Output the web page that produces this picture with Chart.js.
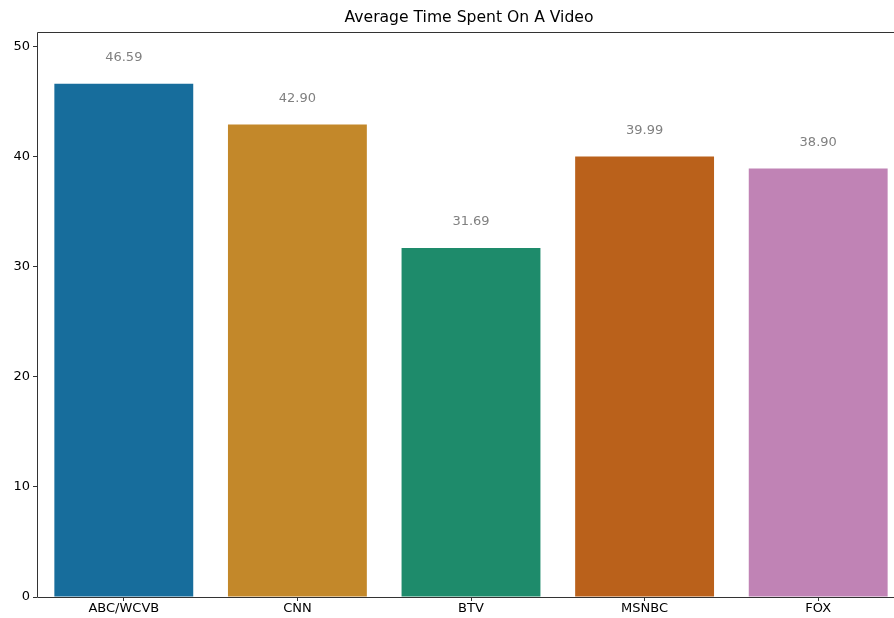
<!DOCTYPE html>
<html>
<head>
<meta charset="utf-8">
<script src="https://cdn.jsdelivr.net/npm/chart.js@4/dist/chart.umd.min.js"></script>
<style>
  html, body { margin: 0; padding: 0; background: #fff; overflow: hidden; }
  #wrap { width: 894px; height: 618px; overflow: hidden; position: relative; }
  #c { position: absolute; left: 0; top: 0; }
</style>
</head>
<body>
<div id="wrap"><canvas id="c" width="905" height="618"></canvas></div>
<script>
const channels = ['ABC/WCVB', 'CNN', 'BTV', 'MSNBC', 'FOX'];
const avgTime = [46.59, 42.90, 31.69, 39.99, 38.90];
const barColors = ['#176d9c', '#c3882a', '#1e8b6b', '#ba611b', '#c083b5'];
const yTicks = [0, 10, 20, 30, 40, 50];
const chartTitle = 'Average Time Spent On A Video';

const FONT = "'DejaVu Sans', sans-serif";

// spines around the plotting area plus the title centred over it
const frame = {
  id: 'frame',
  afterDatasetsDraw(chart) {
    const { ctx, chartArea: a } = chart;
    const l = Math.round(a.left) + 0.5, t = Math.round(a.top) + 0.5, b = Math.round(a.bottom) + 0.5;
    const r = Math.round(a.right) - 0.5;
    ctx.save();
    ctx.strokeStyle = '#333';
    ctx.lineWidth = 1;
    ctx.beginPath();
    ctx.moveTo(r, t); ctx.lineTo(l, t); ctx.lineTo(l, b); ctx.lineTo(r, b); ctx.lineTo(r, t);
    ctx.stroke();
    ctx.fillStyle = '#000';
    ctx.font = '15.6px ' + FONT;
    ctx.textAlign = 'center';
    ctx.textBaseline = 'middle';
    ctx.fillText(chartTitle, (a.left + a.right) / 2 - 2, 18);
    ctx.restore();
  }
};

// value text above each bar
const valueLabels = {
  id: 'valueLabels',
  afterDatasetsDraw(chart) {
    const { ctx } = chart;
    const meta = chart.getDatasetMeta(0);
    const ys = chart.scales.y;
    ctx.save();
    ctx.fillStyle = '#808080';
    ctx.font = '13px ' + FONT;
    ctx.textAlign = 'center';
    ctx.textBaseline = 'middle';
    meta.data.forEach((bar, i) => {
      const v = avgTime[i];
      ctx.fillText(v.toFixed(2), bar.x, ys.getPixelForValue(v) - 26);
    });
    ctx.restore();
  }
};

new Chart(document.getElementById('c'), {
  type: 'bar',
  data: {
    labels: channels,
    datasets: [{
      data: avgTime,
      backgroundColor: barColors,
      borderWidth: 0,
      categoryPercentage: 0.8,
      barPercentage: 1.0
    }]
  },
  options: {
    responsive: false,
    animation: false,
    devicePixelRatio: 1,
    layout: { padding: { left: 0, right: 0, top: 32, bottom: 0 } },
    plugins: {
      legend: { display: false },
      tooltip: { enabled: false },
      title: { display: false }
    },
    scales: {
      x: {
        offset: true,
        grid: { display: true, offset: false, drawOnChartArea: false, drawTicks: true, tickLength: 4, color: '#333' },
        border: { display: false },
        ticks: { color: '#000', font: { family: FONT, size: 13 }, padding: 0, maxRotation: 0 },
        afterFit(s) { s.height = 21; }
      },
      y: {
        min: 0,
        max: 51.3,
        grid: { display: true, drawOnChartArea: false, drawTicks: true, tickLength: 4, color: '#333' },
        border: { display: false },
        ticks: { color: '#000', font: { family: FONT, size: 13 }, padding: 3, stepSize: 10 },
        afterBuildTicks(s) { s.ticks = yTicks.map(v => ({ value: v })); },
        afterFit(s) { s.width = 37; }
      }
    }
  },
  plugins: [frame, valueLabels]
});
</script>
</body>
</html>
